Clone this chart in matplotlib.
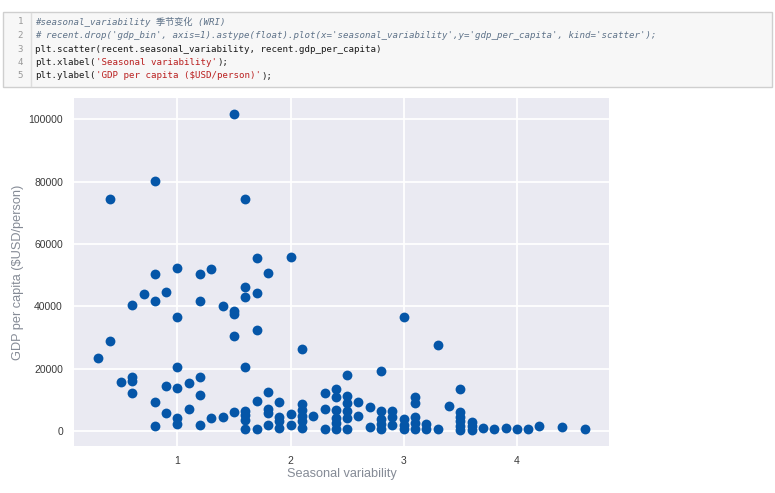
import matplotlib
matplotlib.use('Agg')
import matplotlib.pyplot as plt
from matplotlib.patches import Rectangle
from matplotlib.lines import Line2D

# ---------------- data ----------------
seasonal_variability = [
    0.3,
    0.4, 0.4,
    0.5,
    0.6, 0.6, 0.6, 0.6,
    0.7,
    0.8, 0.8, 0.8, 0.8, 0.8,
    0.9, 0.9, 0.9,
    1.0, 1.0, 1.0, 1.0, 1.0, 1.0,
    1.1, 1.1,
    1.2, 1.2, 1.2, 1.2, 1.2,
    1.3, 1.3,
    1.4, 1.4,
    1.5, 1.5, 1.5, 1.5, 1.5,
    1.6, 1.6, 1.6, 1.6, 1.6, 1.6, 1.6, 1.6,
    1.7, 1.7, 1.7, 1.7, 1.7,
    1.8, 1.8, 1.8, 1.8, 1.8,
    1.9, 1.9, 1.9, 1.9,
    2.0, 2.0, 2.0,
    2.1, 2.1, 2.1, 2.1, 2.1, 2.1,
    2.2,
    2.3, 2.3, 2.3,
    2.4, 2.4, 2.4, 2.4, 2.4, 2.4,
    2.5, 2.5, 2.5, 2.5, 2.5, 2.5,
    2.6, 2.6,
    2.7, 2.7,
    2.8, 2.8, 2.8, 2.8, 2.8,
    2.9, 2.9, 2.9,
    3.0, 3.0, 3.0, 3.0,
    3.1, 3.1, 3.1, 3.1, 3.1,
    3.2, 3.2,
    3.3, 3.3,
    3.4,
    3.5, 3.5, 3.5, 3.5, 3.5, 3.5,
    3.6, 3.6, 3.6,
    3.7, 3.8, 3.9, 4.0, 4.1, 4.2, 4.4, 4.6,
]
gdp_per_capita = [
    23300,
    74500, 29000,
    15700,
    40400, 17300, 15900, 12300,
    43800,
    80100, 50400, 41600, 9100, 1600,
    44500, 14400, 5800,
    52200, 36600, 20600, 13600, 4200, 2200,
    15500, 6900,
    50400, 41800, 17300, 11500, 2000,
    52000, 4200,
    40100, 4500,
    101800, 38500, 37500, 30300, 6100,
    74300, 46300, 43100, 20500, 6400, 5000, 3600, 600,
    55600, 44100, 32500, 9700, 550,
    50700, 12500, 7100, 5600, 1800,
    9100, 4500, 3000, 1000,
    55900, 5500, 1800,
    26200, 8500, 6800, 4900, 3200, 870,
    4800,
    12000, 6900, 550,
    13400, 10800, 6700, 4100, 2500, 550,
    17800, 11300, 8900, 6200, 4100, 550,
    9100, 4800,
    7600, 1200,
    19200, 6200, 3800, 2300, 550,
    6200, 4300, 1900,
    36700, 3800, 1900, 550,
    10700, 8900, 4300, 2500, 740,
    2300, 550,
    27500, 550,
    8000,
    13400, 6000, 4500, 3000, 1400, 200,
    2800, 1500, 300,
    960, 550, 870, 550, 740, 1400, 1200, 550,
]
x_ticks = [1, 2, 3, 4]
y_ticks = [0, 20000, 40000, 60000, 80000, 100000]
x_label = 'Seasonal variability'
y_label = 'GDP per capita ($USD/person)'

# notebook code cell text (line, list of (segment, kind))
code_lines = [
    [('#seasonal_variability 季节变化 (WRI)', 'comment')],
    [("# recent.drop('gdp_bin', axis=1).astype(float).plot(x='seasonal_variability',y='gdp_per_capita', kind='scatter');", 'comment')],
    [('plt.scatter(recent.seasonal_variability, recent.gdp_per_capita)', 'code')],
    [('plt.xlabel(', 'code'), ("'Seasonal variability'", 'string'), (');', 'code')],
    [('plt.ylabel(', 'code'), ("'GDP per capita ($USD/person)'", 'string'), (');', 'code')],
]

# ---------------- figure ----------------
W, H, DPI = 775, 493, 100
fig = plt.figure(figsize=(W / DPI, H / DPI), dpi=DPI)
fig.patch.set_facecolor('white')


def fx(px):
    return px / W


def fy(py):
    return 1 - py / H


# code cell box
fig.patches.append(Rectangle((fx(2.5), fy(86.5)), fx(772) - fx(2.5), fy(12.5) - fy(86.5),
                             transform=fig.transFigure, facecolor='#f7f7f7',
                             edgecolor='#cfcfcf', linewidth=1.0))
fig.lines.append(Line2D([fx(30.5), fx(30.5)], [fy(13), fy(86)], transform=fig.transFigure,
                        color='#dddddd', linewidth=1.0))

code_fs = 6.6
char_w = code_fs / 72 * DPI * 0.602
colors = {'comment': '#5f7389', 'code': '#1a1a1a', 'string': '#ba2121'}
line_y = [21.5, 35.5, 49.0, 62.5, 76.0]
mono = ['DejaVu Sans Mono', 'Noto Sans CJK SC']
for i, segs in enumerate(code_lines):
    fig.text(fx(23), fy(line_y[i]), str(i + 1), ha='right', va='center',
             fontsize=code_fs, family=mono, color='#999999')
    xpos = 35.0
    for seg, kind in segs:
        fig.text(fx(xpos), fy(line_y[i]), seg, ha='left', va='center',
                 fontsize=code_fs, family=mono, color=colors[kind],
                 style='italic' if kind == 'comment' else 'normal', parse_math=False)
        xpos += len(seg) * char_w

# scatter axes
ax = fig.add_axes([fx(74), fy(446), fx(609) - fx(74), fy(98) - fy(446)])
ax.set_facecolor('#eaeaf2')
ax.set_axisbelow(True)
ax.grid(True, color='white', linewidth=1.3)
for s in ax.spines.values():
    s.set_visible(False)

ax.scatter(seasonal_variability, gdp_per_capita, s=50, color='#0556a8', linewidths=0, zorder=3)

ax.set_xticks(x_ticks)
ax.set_yticks(y_ticks)
ax.set_xticklabels([str(t) for t in x_ticks])
ax.set_yticklabels([str(t) for t in y_ticks])
ax.tick_params(axis='both', length=0, labelsize=7.5, labelcolor='#3a3a3a')
ax.tick_params(axis='x', pad=7)
ax.tick_params(axis='y', pad=8)
for lab in ax.get_xticklabels() + ax.get_yticklabels():
    lab.set_family('Liberation Sans')

ax.set_xlabel(x_label, fontsize=9.2, color='#858b96', family='Liberation Sans', labelpad=2)
ax.set_ylabel(y_label, fontsize=9.2, color='#858b96', family='Liberation Sans', labelpad=3)

fig.savefig('out.png', dpi=DPI, facecolor='white')
